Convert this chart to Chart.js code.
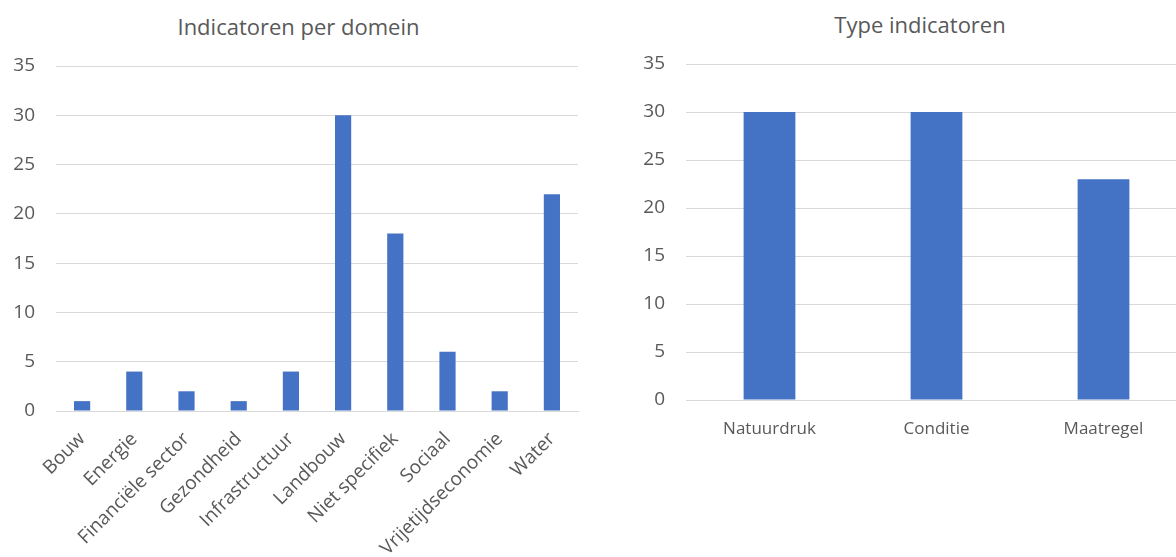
<!DOCTYPE html>
<html>
<head>
<meta charset="utf-8">
<script src="https://cdn.jsdelivr.net/npm/chart.js@4"></script>
<style>
  html, body { margin: 0; padding: 0; background: #fff; overflow: hidden; }
  body { width: 1176px; height: 557px; position: relative; font-family: "Open Sans", sans-serif; }
  .title { position: absolute; color: #595959; font-size: 22px; line-height: 30px; text-align: center; white-space: nowrap; }
  #wrapLeft { position: absolute; left: 0; top: 0; width: 590px; height: 557px; }
  #wrapRight { position: absolute; left: 620px; top: 0; width: 556px; height: 557px; overflow: hidden; }
  #wrapRight canvas { position: absolute; left: 0; top: 0; }
</style>
</head>
<body>
<div class="title" style="left:0;width:597px;top:11px;">Indicatoren per domein</div>
<div class="title" style="left:620px;width:600px;top:9px;">Type indicatoren</div>
<div id="wrapLeft"><canvas id="domeinChart" width="590" height="557"></canvas></div>
<div id="wrapRight"><canvas id="typeChart" width="580" height="557"></canvas></div>
<script>
  'use strict'

  var domeinLabels = ['Bouw', 'Energie', 'Financiële sector', 'Gezondheid', 'Infrastructuur',
    'Landbouw', 'Niet specifiek', 'Sociaal', 'Vrijetijdseconomie', 'Water']
  var domeinValues = [1, 4, 2, 1, 4, 30, 18, 6, 2, 22]

  var typeLabels = ['Natuurdruk', 'Conditie', 'Maatregel']
  var typeValues = [30, 30, 23]

  var yTicks = [0, 5, 10, 15, 20, 25, 30, 35]

  var barColor = '#4472C4'
  var textColor = '#595959'
  var gridColor = '#d9d9d9'

  // shared options, sizes set per chart below
  function makeOptions (yWidth, xHeight, padRight, padTop, rotate) {
    return {
      responsive: false,
      animation: false,
      layout: { padding: { top: padTop, right: padRight, left: 0, bottom: 0 } },
      plugins: { legend: { display: false }, tooltip: { enabled: false } },
      scales: {
        x: {
          grid: { display: false },
          border: { display: true, color: gridColor, width: 1 },
          ticks: {
            color: textColor,
            font: { family: 'Open Sans', size: rotate ? 19 : 17 },
            padding: rotate ? 9 : 11,
            autoSkip: false,
            minRotation: rotate ? 45 : 0,
            maxRotation: rotate ? 45 : 0
          },
          afterFit: function (scale) { scale.height = xHeight }
        },
        y: {
          min: 0,
          max: yTicks[yTicks.length - 1],
          grid: { color: gridColor, drawTicks: false },
          border: { display: false },
          ticks: {
            stepSize: yTicks[1] - yTicks[0],
            color: textColor,
            font: { family: 'Open Sans', size: 19 },
            padding: 21
          },
          afterFit: function (scale) { scale.width = yWidth }
        }
      }
    }
  }

  // Indicatoren per domein
  var domeinCanvas = document.getElementById('domeinChart').getContext('2d')
  // eslint-disable-next-line no-unused-vars
  var domeinChart = new Chart(domeinCanvas, {
    type: 'bar',
    data: {
      labels: domeinLabels,
      datasets: [{
        data: domeinValues,
        backgroundColor: barColor,
        categoryPercentage: 1,
        barPercentage: 0.31
      }]
    },
    options: makeOptions(56, 146, 12, 66, true)
  })

  // Type indicatoren
  var typeCanvas = document.getElementById('typeChart').getContext('2d')
  // eslint-disable-next-line no-unused-vars
  var typeChart = new Chart(typeCanvas, {
    type: 'bar',
    data: {
      labels: typeLabels,
      datasets: [{
        data: typeValues,
        backgroundColor: barColor,
        categoryPercentage: 1,
        barPercentage: 0.31
      }]
    },
    options: makeOptions(66, 157, 13, 64, false)
  })
</script>
</body>
</html>
